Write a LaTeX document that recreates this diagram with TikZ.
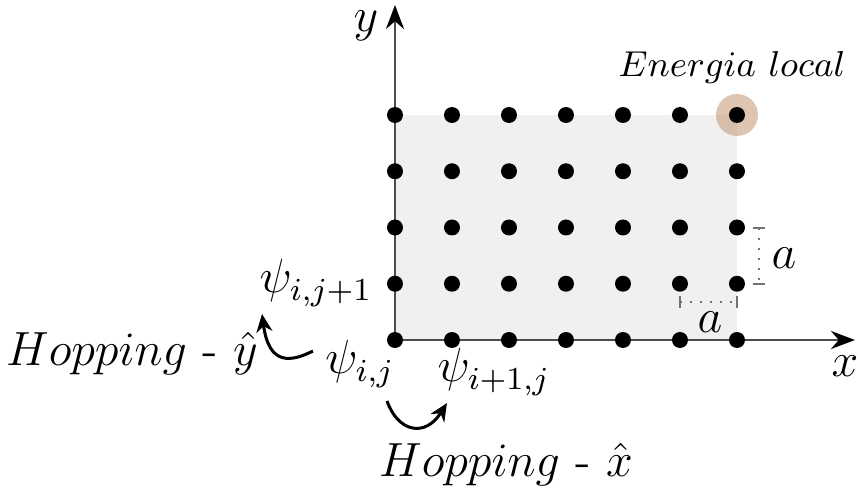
\documentclass[tikz,border=0pt]{standalone}
\usetikzlibrary{arrows.meta}
\begin{document}
\begin{tikzpicture}[x=0.25pt,y=-0.25pt,
  lbl/.style={inner sep=0pt,font=\fontsize{11.8}{14}\selectfont},
  smalllbl/.style={inner sep=0pt,font=\fontsize{9.5}{12}\selectfont},
  site/.style={circle,fill=black,inner sep=0pt,minimum size=4pt},
  axis/.style={draw=black!70,line width=0.55pt,-{Stealth[length=6pt,width=4.5pt,black]}},
  hop/.style={line width=0.75pt,-{Stealth[length=4.5pt,width=4pt]}},
  ruler/.style={draw=black!55,dotted,line width=0.5pt},
  rulercap/.style={draw=black!55,line width=0.5pt}]
\useasboundingbox (0,0) rectangle (861,492);
\fill[black!6] (395,115) rectangle (737,340);
% highlight
\fill[fill={rgb,255:red,195;green,150;blue,115},opacity=0.55] (737,115) circle (21);
% axes
\coordinate (o) at (395,340);
\coordinate (xe) at (855,340);
\coordinate (ye) at (395,5);
\draw[axis] (o) -- (xe);
\draw[axis] (o) -- (ye);
% sites
\foreach \i in {0,...,6}{
  \foreach \j in {0,...,4}{
    \node[site] (s\i\j) at ({395+57*\i},{340-56.25*\j}) {};
  }
}
% labels
\node[lbl] (ylab) at (366,26) {$y$};
\node[lbl] (xlab) at (845,366) {$x$};
\node[smalllbl] (en) at (732,68) {$Energia\ local$};
\node[lbl] (pij) at (360,364) {$\psi_{i,j}$};
\node[lbl] (pi1j) at (494,372) {$\psi_{i+1,j}$};
\node[lbl] (pij1) at (316,283) {$\psi_{i,j+1}$};
\node[lbl] (hy) at (132,354) {$Hopping$ - $\hat{y}$};
\node[lbl] (hx) at (506,465) {$Hopping$ - $\hat{x}$};
% rulers
\coordinate (va) at (759,228);
\coordinate (vb) at (759,284);
\draw[ruler] (va) -- (vb);
\draw[rulercap] ([xshift=-1.5pt]va) -- ([xshift=1.5pt]va);
\draw[rulercap] ([xshift=-1.5pt]vb) -- ([xshift=1.5pt]vb);
\node[lbl] (av) at (784,258) {$a$};
\coordinate (ha) at (680,302);
\coordinate (hb) at (737,302);
\draw[ruler] (ha) -- (hb);
\draw[rulercap] ([yshift=-1.5pt]ha) -- ([yshift=1.5pt]ha);
\draw[rulercap] ([yshift=-1.5pt]hb) -- ([yshift=1.5pt]hb);
\node[lbl] (ah) at (710,322) {$a$};
% hopping arrows
\coordinate (y1) at (313,351);
\coordinate (y2) at (262,314);
\draw[hop] (y1) .. controls (291,362) and (269,366) .. (y2);
\coordinate (x1) at (387,401);
\coordinate (x2) at (447,403);
\draw[hop] (x1) .. controls (398,432) and (425,438) .. (x2);
\end{tikzpicture}
\end{document}
